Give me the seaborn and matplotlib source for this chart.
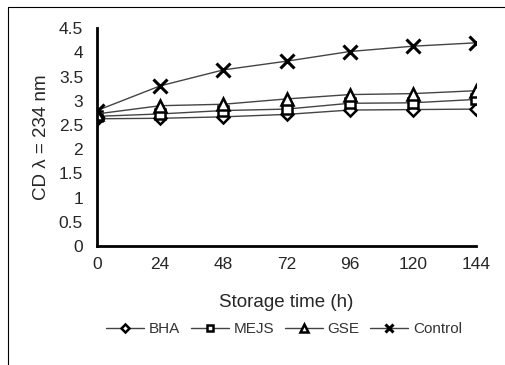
import matplotlib
matplotlib.use("Agg")
import matplotlib.pyplot as plt
import seaborn as sns
import pandas as pd
from matplotlib.lines import Line2D

hours = [0, 24, 48, 72, 96, 120, 144]
bha = [2.63, 2.64, 2.67, 2.72, 2.81, 2.82, 2.83]
mejs = [2.68, 2.73, 2.80, 2.83, 2.95, 2.96, 3.03]
gse = [2.73, 2.90, 2.93, 3.04, 3.13, 3.15, 3.21]
control = [2.80, 3.31, 3.64, 3.82, 4.02, 4.13, 4.20]
series_names = ["BHA", "MEJS", "GSE", "Control"]
y_ticks = [0, 0.5, 1, 1.5, 2, 2.5, 3, 3.5, 4, 4.5]
y_tick_labels = ["0", "0.5", "1", "1.5", "2", "2.5", "3", "3.5", "4", "4.5"]

sns.set_style("white")
plt.rcParams["font.family"] = ["Liberation Sans", "DejaVu Sans"]

fig = plt.figure(figsize=(5.05, 3.65), dpi=100)
ax = fig.add_axes([97 / 505, 1 - 246 / 365, (476 - 97) / 505, (246 - 28.3) / 365])

styles = {
    "BHA": dict(marker="D", markersize=6.5, mfc="white", mec="black", mew=1.8),
    "MEJS": dict(marker="s", markersize=7.5, mfc="white", mec="black", mew=1.8),
    "GSE": dict(marker="^", markersize=8.5, mfc="white", mec="black", mew=1.8),
    "Control": dict(marker="x", markersize=9.5, mfc="black", mec="black", mew=2.2),
}
data = {"BHA": bha, "MEJS": mejs, "GSE": gse, "Control": control}

for name in series_names:
    df = pd.DataFrame({"h": hours, "v": data[name]})
    sns.lineplot(data=df, x="h", y="v", ax=ax, color="#444444", lw=1.0,
                 label=name, **styles[name])

ax.set_xlim(0, 144)
ax.set_ylim(0, 4.5)
ax.set_xticks(hours)
ax.set_xticklabels([str(h) for h in hours], fontsize=12.5)
ax.set_yticks(y_ticks)
ax.set_yticklabels(y_tick_labels, fontsize=12.5)
ax.tick_params(axis="both", length=0)
ax.tick_params(axis="x", pad=8)
ax.tick_params(axis="y", pad=10)
for s in ["top", "right"]:
    ax.spines[s].set_visible(False)
for s in ["left", "bottom"]:
    ax.spines[s].set_linewidth(2.0)
    ax.spines[s].set_color("black")
ax.set_xlabel("Storage time (h)", fontsize=13.5, labelpad=16)
ax.set_ylabel("CD λ = 234 nm", fontsize=13.5, labelpad=6)

handles, labels = ax.get_legend_handles_labels()
leg = ax.legend(handles, labels, loc="center", bbox_to_anchor=(284 / 505, 1 - 329 / 365),
                bbox_transform=fig.transFigure, ncol=4, frameon=False, fontsize=11,
                handlelength=2.5, columnspacing=0.7, handletextpad=0.3, markerscale=0.6)
for t in leg.get_texts():
    t.set_color("#333333")

fig.add_artist(Line2D([8 / 505, 1], [1 - 7 / 365, 1 - 7 / 365], color="black", lw=0.8,
                      transform=fig.transFigure))
fig.add_artist(Line2D([8 / 505, 8 / 505], [1 - 7 / 365, 0], color="black", lw=0.8,
                      transform=fig.transFigure))

fig.savefig("out.png", dpi=100)
